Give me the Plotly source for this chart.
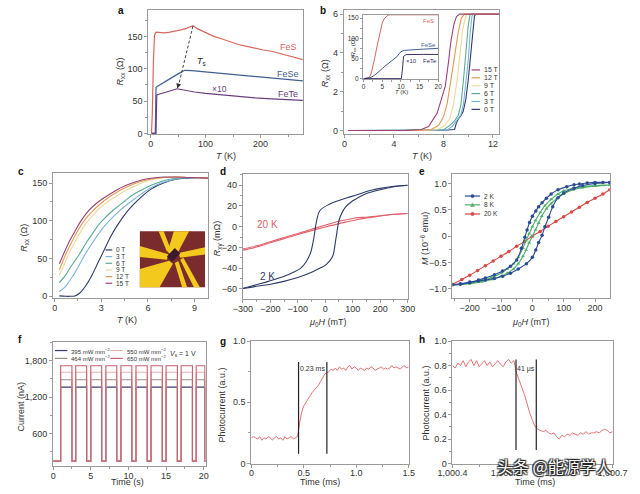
import plotly.graph_objects as go

W, H = 640, 494
FONT = "Liberation Sans, Arial, Helvetica, sans-serif"
LC = "#9a9a9a"
TC = "#333333"

# ---------------- data ----------------
# panel a : R_xx vs T
a_T_FeS = [1.5, 3, 5, 7, 10, 15, 25, 35, 45, 55, 65, 72, 77, 85, 100, 115, 130, 145, 160, 175, 190, 205, 220, 235, 250, 265, 278]
a_R_FeS = [0, 30, 110, 152, 156.5, 156, 155.5, 156.5, 158, 160, 162.5, 164.5, 166.5, 162, 155.5, 150, 146, 141.5, 137.5, 134.5, 131.5, 129, 127, 123.5, 120.5, 117, 114]
a_T_FeSe = [2, 8.5, 9.2, 9.8, 12, 20, 30, 40, 50, 62, 75, 100, 130, 160, 190, 220, 250, 278]
a_R_FeSe = [0, 0, 40, 71, 72.5, 77, 82, 87, 92, 97.5, 97, 95, 92.5, 90, 87.5, 85, 83, 81]
a_T_FeTe = [2, 9.8, 10.4, 11.2, 15, 25, 35, 48, 60, 80, 100, 130, 160, 190, 220, 250, 278]
a_R_FeTe = [0, 0, 30, 59.5, 60.5, 62.5, 65.5, 69, 67, 64, 62, 59.5, 57, 55, 53.5, 52, 51]

# panel b : R_xx vs T at fields
b_fields = ["0 T", "3 T", "6 T", "9 T", "12 T", "15 T"]
b_T = [
    [0.3, 8.0, 8.9, 9.0, 9.2, 9.4, 9.6, 9.8, 10.0, 10.2, 10.35, 10.5, 10.6, 12.5],
    [0.3, 7.5, 8.3, 8.7, 9.0, 9.2, 9.4, 9.6, 9.8, 10.0, 10.15, 10.3, 10.4, 12.5],
    [0.3, 7.2, 8.0, 8.5, 8.9, 9.2, 9.4, 9.6, 9.8, 10.0, 10.15, 12.5],
    [0.3, 6.8, 7.5, 8.0, 8.5, 8.8, 9.1, 9.3, 9.55, 9.8, 9.95, 12.5],
    [0.3, 6.3, 7.0, 7.6, 8.0, 8.3, 8.6, 8.92, 9.2, 9.44, 9.7, 12.5],
    [0.3, 5.0, 6.2, 6.8, 7.5, 7.85, 8.15, 8.4, 8.6, 8.85, 9.05, 9.3, 12.5],
]
b_R = [
    [0, 0.01, 0.05, 0.3, 0.6, 0.75, 1.0, 1.6, 2.6, 3.8, 5.0, 5.9, 6.0, 6.0],
    [0, 0.01, 0.03, 0.2, 0.45, 0.6, 0.8, 1.3, 2.4, 3.6, 5.0, 5.9, 6.0, 6.0],
    [0, 0.01, 0.04, 0.25, 0.5, 0.8, 1.3, 2.5, 4.0, 5.4, 6.0, 6.0],
    [0, 0.01, 0.05, 0.2, 0.6, 1.3, 2.6, 3.9, 5.2, 5.9, 6.0, 6.0],
    [0, 0.01, 0.05, 0.25, 0.7, 1.4, 2.6, 3.94, 5.1, 5.8, 6.0, 6.0],
    [0, 0.005, 0.05, 0.2, 0.91, 1.6, 2.3, 3.5, 4.6, 5.5, 5.88, 6.0, 6.0],
]
# panel b inset
bi_T_FeS = [0, 1.0, 1.5, 2.0, 2.5, 3.0, 3.5, 4.0, 4.5, 5.0, 5.5, 6.0, 6.5, 7.2, 8, 12, 16, 20]
bi_R_FeS = [0, 1, 3, 12, 29, 52, 76, 100, 120, 138, 148, 154, 157, 158, 158, 158, 158, 158]
bi_T_FeSe = [0, 1.3, 2, 3, 4, 5, 6, 7, 8, 9, 9.7, 10.3, 11, 12, 14, 16, 18, 20]
bi_R_FeSe = [0, 1, 3, 9, 16, 25, 33, 40, 46, 55, 64, 68, 70, 71, 72, 73, 74, 75]
bi_T_FeTe = [0, 5, 10.1, 10.4, 10.7, 11.4, 13, 16, 20]
bi_R_FeTe = [0, 0, 0, 21, 55, 59.5, 60, 60, 60]

# panel c : R_xx vs T (FeS) at fields
c_T = [0.3, 0.7, 1.0, 1.3, 1.6, 2.0, 2.4, 2.8, 3.2, 3.6, 4.0, 4.5, 5.0, 5.6, 6.2, 7.0, 7.8, 8.5, 9.2, 10]
c_R = [
    [0.5, 0, 0, 0.5, 4, 14, 28, 45, 62, 79, 93, 108, 120, 132, 142, 150, 155, 156.5, 157, 156.5],
    [6, 13, 22, 31, 42, 57, 70, 82, 93, 102, 110, 119, 127, 136, 144, 151, 155.5, 157, 157, 156.5],
    [18, 28, 38, 47, 56, 70, 82, 94, 103, 111, 118, 126, 134, 141, 147, 153, 156.5, 157.5, 157, 156.5],
    [28, 46, 60, 72, 83, 96, 106, 115, 122, 128, 133, 139.5, 144.5, 150, 154, 157, 158, 157.5, 157, 156.5],
    [35, 55, 68, 80, 91, 103, 112, 120, 127, 133, 138, 143.5, 148, 152.5, 155.5, 157.5, 158, 157.5, 157, 156.5],
    [43, 62, 75, 86, 97, 109, 118, 125, 131, 136, 141, 146, 150, 154, 156.5, 158, 158, 157.5, 157, 156.5],
]

# panel d : Hall resistance loops
d_H_2K_dn = [300, 250, 200, 150, 119, 80, 50, 15, -20, -31, -43, -54, -70, -89, -120, -147, -204, -250, -300]
d_R_2K_dn = [40, 39, 37, 34, 31, 28, 25.4, 21.7, 15.4, 6, -13, -25.6, -34, -40, -44.5, -47.6, -52.5, -56, -59.7]
d_H_2K_up = [-300, -250, -204, -147, -100, -54, -20, 3.5, 26.5, 38, 50, 60, 73, 100, 119, 150, 200, 250, 300]
d_R_2K_up = [-59.7, -57.5, -55.7, -52.5, -49, -44.5, -40, -36.6, -28.8, -13, 6, 13, 18.6, 25, 28, 32, 35.7, 38.5, 40]
d_H_20K_dn = [300, 250, 200, 150, 119, 100, 50, 0, -50, -100, -150, -200, -250, -300]
d_R_20K_dn = [12.8, 12, 10.6, 9.2, 8.8, 8, 5.2, 1.5, -2.5, -6.5, -10.5, -14.5, -18.5, -21.5]
d_H_20K_up = [-300, -250, -200, -150, -100, -50, 0, 50, 84, 119, 150, 200, 250, 300]
d_R_20K_up = [-22.6, -19.5, -15.5, -11.5, -7.5, -3.8, -0.3, 3.0, 5.0, 7.0, 8.5, 10.3, 12, 12.8]

# panel e : magnetization loops
e_H_2K = [247, 225, 200, 175, 150, 133, 110, 82, 60, 45, 31, 20, 11, 0, -9, -17, -24, -35, -50, -70, -95, -121, -150, -172, -200, -230, -255,
          -230, -200, -172, -150, -121, -95, -70, -45, -19, 0, 11, 20, 31, 40, 52, 65, 82, 100, 133, 160, 200, 247]
e_M_2K = [1.02, 1.02, 1.02, 1.01, 0.99, 0.975, 0.94, 0.88, 0.80, 0.72, 0.635, 0.56, 0.48, 0.38, 0.26, 0.12, -0.02, -0.23, -0.45, -0.57, -0.66, -0.73, -0.79, -0.83, -0.87, -0.90, -0.92,
          -0.91, -0.88, -0.85, -0.83, -0.80, -0.76, -0.70, -0.62, -0.52, -0.40, -0.26, -0.12, 0.02, 0.18, 0.36, 0.56, 0.73, 0.82, 0.91, 0.96, 1.0, 1.02]
e_H_8K = [247, 200, 160, 130, 100, 82, 60, 40, 25, 10, 0, -10, -20, -30, -45, -60, -80, -100, -130, -160, -200, -255,
          -200, -160, -130, -100, -80, -60, -45, -30, -20, -10, 0, 10, 20, 30, 45, 60, 80, 100, 130, 160, 200, 247]
e_M_8K = [0.97, 0.96, 0.94, 0.91, 0.86, 0.80, 0.70, 0.58, 0.45, 0.30, 0.18, 0.05, -0.08, -0.22, -0.40, -0.52, -0.62, -0.70, -0.78, -0.84, -0.89, -0.93,
          -0.90, -0.86, -0.82, -0.76, -0.70, -0.62, -0.52, -0.38, -0.26, -0.12, 0.0, 0.12, 0.25, 0.38, 0.52, 0.62, 0.72, 0.80, 0.88, 0.92, 0.95, 0.97]
e_H_20K = [-255, -225, -200, -175, -150, -125, -100, -75, -50, -25, 0, 25, 50, 75, 100, 125, 150, 175, 200, 225, 247]
e_M_20K = [-0.91, -0.82, -0.74, -0.65, -0.56, -0.47, -0.38, -0.29, -0.19, -0.10, 0.0, 0.09, 0.19, 0.28, 0.37, 0.46, 0.55, 0.64, 0.72, 0.80, 0.88]

# panel f : photocurrent switching
f_labels = ["395 mW mm<sup>−2</sup>", "464 mW mm<sup>−2</sup>", "550 mW mm<sup>−2</sup>", "650 mW mm<sup>−2</sup>"]
f_on_level = [1365, 1487, 1611, 1719]
f_dark_level = 140
f_pulse_on = [1.0, 3.0, 5.0, 7.0, 9.0, 11.0, 13.0, 15.0, 17.0, 19.0]
f_pulse_off = [2.5, 4.45, 6.45, 8.45, 10.45, 12.5, 14.5, 16.5, 18.5, 20.15]
f_t_start, f_t_end = 0.0, 20.25

# panel g : rise
g_time = [0.00, 0.02, 0.04, 0.06, 0.08, 0.10, 0.12, 0.14, 0.16, 0.18, 0.20, 0.22, 0.24, 0.26, 0.28, 0.30, 0.32, 0.34, 0.36, 0.38,
          0.40, 0.42, 0.44, 0.46, 0.48, 0.50, 0.52, 0.54, 0.56, 0.58, 0.60, 0.62, 0.64, 0.66, 0.68, 0.70, 0.72, 0.74, 0.76, 0.78,
          0.80, 0.82, 0.84, 0.86, 0.88, 0.90, 0.92, 0.94, 0.96, 0.98, 1.00, 1.02, 1.04, 1.06, 1.08, 1.10, 1.12, 1.14, 1.16, 1.18,
          1.20, 1.22, 1.24, 1.26, 1.28, 1.30, 1.32, 1.34, 1.36, 1.38, 1.40, 1.42, 1.44, 1.46, 1.48, 1.50]
g_signal = [0.21, 0.22, 0.21, 0.20, 0.22, 0.19, 0.21, 0.20, 0.22, 0.21, 0.19, 0.21, 0.22, 0.20, 0.21, 0.19, 0.22, 0.20, 0.21, 0.22,
            0.20, 0.21, 0.22, 0.33, 0.42, 0.47, 0.50, 0.53, 0.56, 0.58, 0.60, 0.62, 0.64, 0.67, 0.70, 0.73, 0.74, 0.75, 0.77, 0.76,
            0.78, 0.76, 0.79, 0.77, 0.78, 0.76, 0.79, 0.80, 0.77, 0.79, 0.78, 0.76, 0.78, 0.77, 0.76, 0.78, 0.77, 0.79, 0.78, 0.76,
            0.77, 0.78, 0.79, 0.77, 0.78, 0.77, 0.78, 0.80, 0.78, 0.79, 0.78, 0.77, 0.79, 0.80, 0.78, 0.79]

# panel h : decay
h_time = [1000.400, 1000.405, 1000.410, 1000.415, 1000.420, 1000.425, 1000.430, 1000.435, 1000.440, 1000.445,
          1000.450, 1000.455, 1000.460, 1000.465, 1000.470, 1000.475, 1000.480, 1000.485, 1000.490, 1000.495,
          1000.500, 1000.505, 1000.510, 1000.515, 1000.520, 1000.525, 1000.530, 1000.535, 1000.540, 1000.545,
          1000.550, 1000.555, 1000.560, 1000.565, 1000.570, 1000.575, 1000.580, 1000.585, 1000.590, 1000.595,
          1000.600, 1000.605, 1000.610, 1000.615, 1000.620, 1000.625, 1000.630, 1000.635, 1000.640, 1000.645,
          1000.650, 1000.655, 1000.660, 1000.665, 1000.670, 1000.675, 1000.680, 1000.685, 1000.690, 1000.695, 1000.700]
h_signal = [0.80, 0.78, 0.82, 0.80, 0.84, 0.79, 0.83, 0.85, 0.80, 0.84,
            0.79, 0.82, 0.84, 0.80, 0.83, 0.79, 0.82, 0.84, 0.81, 0.79,
            0.83, 0.85, 0.82, 0.84, 0.74, 0.67, 0.62, 0.56, 0.48, 0.41,
            0.35, 0.30, 0.28, 0.27, 0.26, 0.27, 0.25, 0.24, 0.25, 0.22,
            0.20, 0.23, 0.22, 0.24, 0.23, 0.25, 0.24, 0.23, 0.25, 0.24,
            0.26, 0.24, 0.25, 0.25, 0.26, 0.25, 0.27, 0.28, 0.27, 0.25, 0.26]

# ---------------- colours ----------------
COL_FeS, COL_FeSe, COL_FeTe = "#d8665e", "#3e5f8f", "#6b3f7d"
COL_FIELDS = ["#2d3b68", "#7db3d8", "#5aab96", "#ecd9a0", "#e39a52", "#9c4275"]
COL_D2K, COL_D20K = "#2d3b68", "#e0606a"
COL_E = ["#2b4c94", "#4fae6a", "#d84848"]
COL_F = ["#3b3f6e", "#9c8f86", "#eab0b0", "#c8606e"]
COL_GH = "#e57373"


def px(x):
    return x / W


def py(y):
    return 1 - y / H


def xaxis(l, r, rng, dtick, mdtick, anchor, tick0=0, size=9, **kw):
    d = dict(domain=[px(l), px(r)], range=rng, anchor=anchor, showline=True, mirror=True,
             linecolor=LC, linewidth=1, ticks="outside", ticklen=3, tickwidth=1, tickcolor=LC,
             tickfont=dict(size=size, color=TC, family=FONT), showgrid=False, zeroline=False,
             dtick=dtick, tick0=tick0, ticklabelstandoff=-2,
             minor=dict(ticks="outside", ticklen=2, dtick=mdtick, tick0=tick0, tickcolor=LC, showgrid=False))
    d.update(kw)
    return d


def yaxis(t, b, rng, dtick, mdtick, anchor, tick0=0, size=9, **kw):
    d = dict(domain=[py(b), py(t)], range=rng, anchor=anchor, showline=True, mirror=True,
             linecolor=LC, linewidth=1, ticks="outside", ticklen=3, tickwidth=1, tickcolor=LC,
             tickfont=dict(size=size, color=TC, family=FONT), showgrid=False, zeroline=False,
             dtick=dtick, tick0=tick0,
             minor=dict(ticks="outside", ticklen=2, dtick=mdtick, tick0=tick0, tickcolor=LC, showgrid=False))
    d.update(kw)
    return d


fig = go.Figure()


def line(x, y, xa, ya, color, width=1.2, **kw):
    fig.add_trace(go.Scatter(x=x, y=y, xaxis=xa, yaxis=ya, mode="lines",
                             line=dict(color=color, width=width), showlegend=False, hoverinfo="skip", **kw))


# panel a
line(a_T_FeS, a_R_FeS, "x", "y", COL_FeS)
line(a_T_FeSe, a_R_FeSe, "x", "y", COL_FeSe)
line(a_T_FeTe, a_R_FeTe, "x", "y", COL_FeTe)

# panel b
for i in range(len(b_fields)):
    line(b_T[i], b_R[i], "x2", "y2", COL_FIELDS[i], 1.1)
# inset
line(bi_T_FeS, bi_R_FeS, "x3", "y3", COL_FeS, 1.0)
line(bi_T_FeSe, bi_R_FeSe, "x3", "y3", COL_FeSe, 1.0)
line(bi_T_FeTe, bi_R_FeTe, "x3", "y3", "#3a2f5e", 1.0)

# panel c
for i in range(len(b_fields)):
    line(c_T, c_R[i], "x4", "y4", COL_FIELDS[i], 1.1, line_shape="spline")

# panel d
line(d_H_20K_dn, d_R_20K_dn, "x5", "y5", COL_D20K, 1.1, line_shape="spline")
line(d_H_20K_up, d_R_20K_up, "x5", "y5", COL_D20K, 1.1, line_shape="spline")
line(d_H_2K_dn, d_R_2K_dn, "x5", "y5", COL_D2K, 1.1, line_shape="spline")
line(d_H_2K_up, d_R_2K_up, "x5", "y5", COL_D2K, 1.1, line_shape="spline")

# panel e
e_sets = [(e_H_20K, e_M_20K, COL_E[2], "circle"), (e_H_8K, e_M_8K, COL_E[1], "triangle-up"),
          (e_H_2K, e_M_2K, COL_E[0], "circle")]
for hx, my, col, sym in e_sets:
    fig.add_trace(go.Scatter(x=hx, y=my, xaxis="x6", yaxis="y6", mode="lines+markers",
                             line=dict(color=col, width=1.1, shape="spline"),
                             marker=dict(color=col, size=3.5, symbol=sym),
                             showlegend=False, hoverinfo="skip"))

# panel f
for i in range(len(f_labels)):
    xs, ys = [f_t_start], [f_dark_level]
    for on, off in zip(f_pulse_on, f_pulse_off):
        xs += [on, on, off, off]
        ys += [f_dark_level, f_on_level[i], f_on_level[i], f_dark_level]
    xs.append(f_t_end)
    ys.append(f_dark_level)
    line(xs, ys, "x7", "y7", COL_F[i], 1.1)

# panel g, h
line(g_time, g_signal, "x8", "y8", COL_GH, 1.0)
line(h_time, h_signal, "x9", "y9", COL_GH, 1.0)

# ---------------- axes ----------------
lay = dict(
    xaxis=xaxis(140, 302, [-4, 277], 100, 50, "y"),
    yaxis=yaxis(5, 132, [-1.5, 191], 50, 25, "x"),
    xaxis2=xaxis(345, 508, [-0.05, 12.5], 4, 2, "y2"),
    yaxis2=yaxis(5, 132, [-0.2, 6.22], 2, 1, "x2"),
    xaxis3=xaxis(365, 444, [-0.2, 20], 5, 2.5, "y3", size=6.5, ticklen=2, ticklabelstandoff=-1),
    yaxis3=yaxis(10, 76, [-2, 158], 50, 25, "x3", size=6.5, ticklen=2),
    xaxis4=xaxis(40, 203, [-0.1, 9.9], 3, 1.5, "y4"),
    yaxis4=yaxis(171, 299, [-2.2, 164], 50, 25, "x4"),
    xaxis5=xaxis(239, 412, [-300, 300], 100, 50, "y5"),
    yaxis5=yaxis(173, 300, [-69.7, 50.4], 20, 10, "x5"),
    xaxis6=xaxis(459, 624, [-255, 247], 100, 50, "y6"),
    yaxis6=yaxis(173, 299, [-1.17, 1.17], 0.5, 0.25, "x6",
                 tickmode="array", tickvals=[-1, -0.5, 0, 0.5, 1], ticktext=["−1.0", "−0.5", "0", "0.5", "1.0"]),
    xaxis7=xaxis(40, 200, [0, 20.25], 5, 2.5, "y7"),
    yaxis7=yaxis(344, 471, [52, 2111], 600, 300, "x7", tickformat=",d"),
    xaxis8=xaxis(248, 413, [0, 1.5], 0.5, 0.25, "y8",
                 tickmode="array", tickvals=[0, 0.5, 1.0, 1.5], ticktext=["0", "0.5", "1.0", "1.5"]),
    yaxis8=yaxis(343, 468, [0, 1], 0.5, 0.25, "x8",
                 tickmode="array", tickvals=[0, 0.5, 1.0], ticktext=["0", "0.5", "1.0"]),
    xaxis9=xaxis(459, 627, [1000.4, 1000.7], 0.1, 0.05, "y9", tick0=1000.4, tickformat=",.1f"),
    yaxis9=yaxis(343, 468, [0, 1], 0.2, 0.1, "x9",
                 tickmode="array", tickvals=[0, 0.2, 0.4, 0.6, 0.8, 1.0], ticktext=["0", "0.2", "0.4", "0.6", "0.8", "1.0"]),
)

annotations = []
shapes = []


def text(x, y, s, xref, yref, size=9, color=TC, xanchor="center", yanchor="middle", **kw):
    annotations.append(dict(x=x, y=y, text=s, xref=xref, yref=yref, showarrow=False,
                            font=dict(size=size, color=color, family=FONT), xanchor=xanchor, yanchor=yanchor, **kw))


def ptext(x, y, s, size=9, color=TC, angle=0, xanchor="center"):
    text(px(x), py(y), s, "paper", "paper", size, color, xanchor=xanchor, textangle=angle)


# axis titles (placed where the reference shows them)
RXX = "<i>R</i><sub>xx</sub> (Ω)"
TK = "<i>T</i> (K)"
MUH = "<i>μ</i><sub>0</sub><i>H</i> (mT)"
ptext(221, 154, TK)
ptext(111, 68, RXX, angle=-90)
ptext(427, 154, TK)
ptext(326, 70, RXX, angle=-90)
ptext(405, 89, TK, size=6)
ptext(355, 43, RXX, size=6, angle=-90)
ptext(118, 322, TK)
ptext(10, 238, RXX, angle=-90)
ptext(328, 324, MUH)
ptext(213, 238, "<i>R</i><sub>xy</sub> (mΩ)", angle=-90)
ptext(541, 324, MUH)
ptext(430, 238, "<i>M</i> (10<sup>−6</sup> emu)", angle=-90)
ptext(118, 487, "Time (s)")
ptext(6, 410, "Current (nA)", angle=-90)
ptext(320, 487, "Time (ms)")
ptext(217, 408, "Photocurrent (a.u.)", angle=-90)
ptext(546, 487, "Time (ms)")
ptext(431, 406, "Photocurrent (a.u.)", angle=-90)

# panel letters
for letter, lx, ly in [("a", 106, 6), ("b", 318, 6), ("c", 1, 170), ("d", 213, 170),
                       ("e", 422, 170), ("f", 1, 341), ("g", 213, 343), ("h", 422, 341)]:
    text(px(lx), py(ly), "<b>%s</b>" % letter, "paper", "paper", size=10, color="#111", xanchor="left")

# panel a labels
text(250, 133, "FeS", "x", "y", 9, COL_FeS)
text(250, 92, "FeSe", "x", "y", 9, COL_FeSe)
text(250, 61, "FeTe", "x", "y", 9, COL_FeTe)
text(126, 68, "×10", "x", "y", 8.5, COL_FeTe)
text(80, 111, "<i>T</i><sub>s</sub>", "x", "y", 9, "#222", xanchor="left")
shapes.append(dict(type="line", xref="x", yref="y", x0=77, y0=166, x1=51, y1=75,
                   line=dict(color="#444", width=1, dash="3px,2px")))
annotations.append(dict(x=48.5, y=69.5, ax=52, ay=79, xref="x", yref="y", axref="x", ayref="y",
                        text="", showarrow=True, arrowhead=2, arrowsize=1, arrowwidth=1, arrowcolor="#333"))

# panel b inset labels
text(17.3, 142, "FeS", "x3", "y3", 6, COL_FeS)
text(17.3, 84, "FeSe", "x3", "y3", 6, COL_FeSe)
text(12.9, 43, "×10", "x3", "y3", 6, "#3a2f5e")
text(17.7, 43, "FeTe", "x3", "y3", 6, "#3a2f5e")


def legend_item(x0, x1, y, color, label, size=7, symbol=None):
    shapes.append(dict(type="line", xref="paper", yref="paper", x0=px(x0), x1=px(x1), y0=py(y), y1=py(y),
                       line=dict(color=color, width=1.2)))
    if symbol:
        cx = (x0 + x1) / 2
        if symbol == "circle":
            shapes.append(dict(type="circle", xref="paper", yref="paper", x0=px(cx - 1.7), x1=px(cx + 1.7),
                               y0=py(y + 1.7), y1=py(y - 1.7), fillcolor=color, line=dict(color=color, width=0.5)))
        else:
            shapes.append(dict(type="path", xref="paper", yref="paper",
                               path="M %f,%f L %f,%f L %f,%f Z" % (px(cx - 2), py(y + 1.6), px(cx + 2), py(y + 1.6), px(cx), py(y - 2)),
                               fillcolor=color, line=dict(color=color, width=0.5)))
    text(px(x1 + 2), py(y), label, "paper", "paper", size, TC, xanchor="left")


# panel b legend (top to bottom 15 T .. 0 T)
for k, i in enumerate(range(5, -1, -1)):
    legend_item(479, 488, 66.3 + 8.05 * k, COL_FIELDS[i], b_fields[i], 7)

# panel c legend (top to bottom 0 T .. 15 T)
for i in range(6):
    legend_item(95, 102, 250 + 6.8 * i, COL_FIELDS[i], b_fields[i], 6.5)


# panel c inset (device photo, drawn with shapes)
def zp(zx, zy):
    return px(zx / 3.0), py(160 + zy / 3.0)


def poly(points, color):
    pts = [zp(a, b) for a, b in points]
    path = "M " + " L ".join("%f,%f" % p for p in pts) + " Z"
    shapes.append(dict(type="path", xref="paper", yref="paper", path=path, fillcolor=color,
                       line=dict(width=0), layer="above"))


poly([(393, 213), (598, 213), (598, 384), (393, 384)], "#7a2b2b")
YEL = "#f2c91c"
poly([(500, 213), (548, 213), (505, 292), (480, 276)], YEL)
poly([(452, 213), (468, 213), (490, 268), (478, 275)], YEL)
poly([(393, 258), (393, 292), (478, 300), (483, 283)], YEL)
poly([(393, 328), (393, 384), (455, 384), (497, 312), (485, 303)], YEL)
poly([(503, 310), (514, 304), (542, 384), (526, 384)], YEL)
poly([(520, 300), (530, 294), (582, 384), (563, 384)], YEL)
poly([(515, 279), (598, 262), (598, 284), (520, 294)], YEL)
poly([(478, 290), (503, 264), (520, 281), (495, 306)], "#3a1830")

# panel d labels
text(-210, 2, "20 K", "x5", "y5", 10, COL_D20K)
text(-210, -48, "2 K", "x5", "y5", 10, COL_D2K)

# panel e legend
legend_item(472, 488, 195, COL_E[0], "2 K", 6.5, "circle")
legend_item(472, 488, 204, COL_E[1], "8 K", 6.5, "triangle")
legend_item(472, 488, 213.3, COL_E[2], "20 K", 6.5, "circle")

# panel f legend
legend_item(42, 55, 352.7, COL_F[0], f_labels[0], 6)
legend_item(42, 55, 360.7, COL_F[1], f_labels[1], 6)
legend_item(100, 113, 352.7, COL_F[2], f_labels[2], 6)
legend_item(100, 113, 360.7, COL_F[3], f_labels[3], 6)
ptext(176, 356, "<i>V</i><sub>s</sub> = 1 V", size=7)

# panel g markers
for xv in (0.45, 0.72):
    shapes.append(dict(type="line", xref="x8", yref="y8", x0=xv, x1=xv, y0=0.08, y1=0.83,
                       line=dict(color="#222", width=1.2)))
text(0.585, 0.775, "0.23 ms", "x8", "y8", 7)
# panel h markers
for xv in (1000.519, 1000.557):
    shapes.append(dict(type="line", xref="x9", yref="y9", x0=xv, x1=xv, y0=0.11, y1=0.85,
                       line=dict(color="#222", width=1.2)))
text(1000.537, 0.77, "41 μs", "x9", "y9", 7)

# watermark
annotations.append(dict(x=px(566), y=py(470.5), xref="paper", yref="paper", text="头条 @能源学人", showarrow=False,
                        xanchor="center", yanchor="middle",
                        font=dict(size=16, color="white", family="Noto Sans CJK SC",
                                  shadow="1px 1px 1px #222, -1px -1px 1px #222, 1px -1px 1px #222, -1px 1px 1px #222")))

fig.update_layout(**lay)
fig.update_layout(width=W, height=H, margin=dict(l=0, r=0, t=0, b=0), paper_bgcolor="white",
                  plot_bgcolor="white", showlegend=False, annotations=annotations, shapes=shapes,
                  font=dict(family=FONT, color=TC), hovermode=False)
fig.write_html("out.html", config={"displayModeBar": False, "staticPlot": True},
               post_script="document.body.style.margin='0';document.body.style.overflow='hidden';")
